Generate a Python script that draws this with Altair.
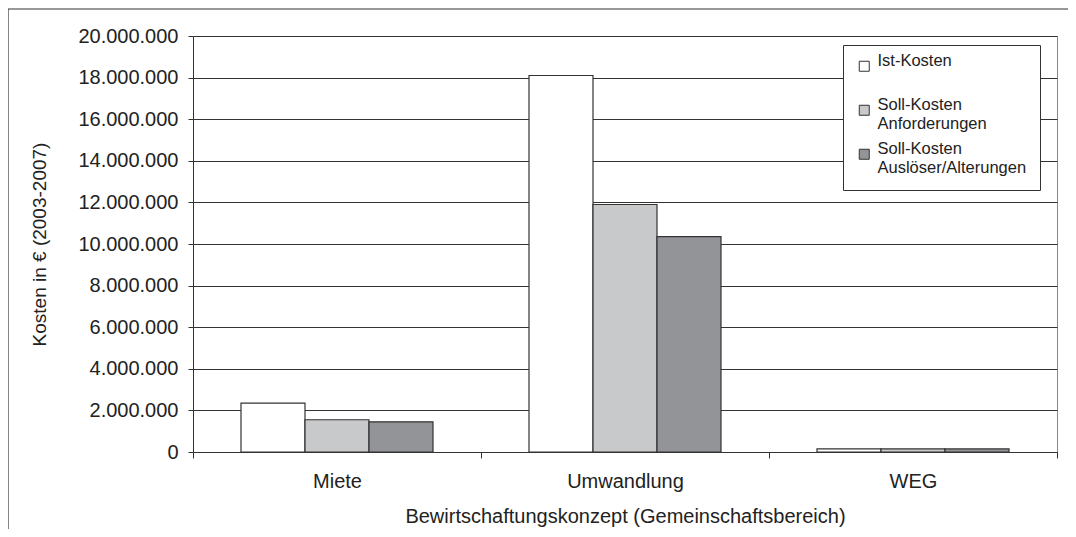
import altair as alt
import pandas as pd

categories = ["Miete", "Umwandlung", "WEG"]
series = ["Ist-Kosten", "Soll-Kosten\nAnforderungen", "Soll-Kosten\nAuslöser/Alterungen"]
ist_kosten = [2350000, 18100000, 150000]
soll_anforderungen = [1550000, 11900000, 150000]
soll_ausloeser = [1450000, 10350000, 150000]
colors = ["#ffffff", "#c8c9cb", "#939497"]
y_ticks = list(range(0, 20000001, 2000000))

rows = []
for i, c in enumerate(categories):
    for s, vals in zip(series, [ist_kosten, soll_anforderungen, soll_ausloeser]):
        rows.append({"Konzept": c, "Serie": s, "Kosten": vals[i]})
df = pd.DataFrame(rows)

FONT = "Liberation Sans"

bars = alt.Chart(df).mark_bar(stroke="#333333", strokeWidth=1.2).encode(
    x=alt.X("Konzept:N", sort=categories,
            scale=alt.Scale(paddingInner=0, paddingOuter=0),
            axis=alt.Axis(title="Bewirtschaftungskonzept (Gemeinschaftsbereich)",
                          labelAngle=0, tickBand="extent", tickSize=6,
                          labelPadding=13, titlePadding=15, titleFontSize=20,
                          grid=False,
                          domainColor="#333333", tickColor="#333333")),
    xOffset=alt.XOffset("Serie:N", sort=series,
                        scale=alt.Scale(paddingInner=0, paddingOuter=0.75)),
    y=alt.Y("Kosten:Q", scale=alt.Scale(domain=[0, 20000000], nice=False),
            axis=alt.Axis(title="Kosten in € (2003-2007)", values=y_ticks,
                          labelExpr="replace(format(datum.value, ','), /,/g, '.')",
                          tickSize=5, labelPadding=10, titlePadding=28,
                          titleFontSize=19,
                          gridColor="#333333", gridWidth=1,
                          domainColor="#333333", tickColor="#333333")),
    color=alt.Color("Serie:N", sort=series,
                    scale=alt.Scale(domain=series, range=colors),
                    legend=alt.Legend(title=None, orient="none", legendX=650, legendY=9,
                                      symbolType="square", symbolSize=100,
                                      symbolStrokeColor="#333333", symbolStrokeWidth=1,
                                      labelExpr="indexof(datum.label, '\\n') < 0 ? [datum.label, ' '] : split(datum.label, '\\n')",
                                      labelFontSize=16.5, labelLimit=300,
                                      rowPadding=8, padding=13,
                                      strokeColor="#333333", fillColor="white",
                                      labelBaseline="alphabetic", labelOffset=5)),
)

border = alt.Chart(pd.DataFrame({"a": [0]})).mark_rect(
    fill=None, stroke="#333333", strokeWidth=1.2, clip=False
).encode(x=alt.value(-185), x2=alt.value(900), y=alt.value(-27), y2=alt.value(530))

chart = alt.layer(bars, border).properties(
    width=864, height=416,
    padding={"left": 185, "top": 28, "right": 11, "bottom": 77},
    autosize=alt.AutoSizeParams(type="none"),
).configure_view(stroke="#888888", strokeWidth=1).configure_axis(
    labelFont=FONT, titleFont=FONT, labelFontSize=20,
    labelColor="#222222", titleColor="#222222", titleFontWeight="normal"
).configure_legend(labelFont=FONT, labelColor="#222222")

chart.save("out.html", embed_options={"renderer": "svg", "actions": False})
